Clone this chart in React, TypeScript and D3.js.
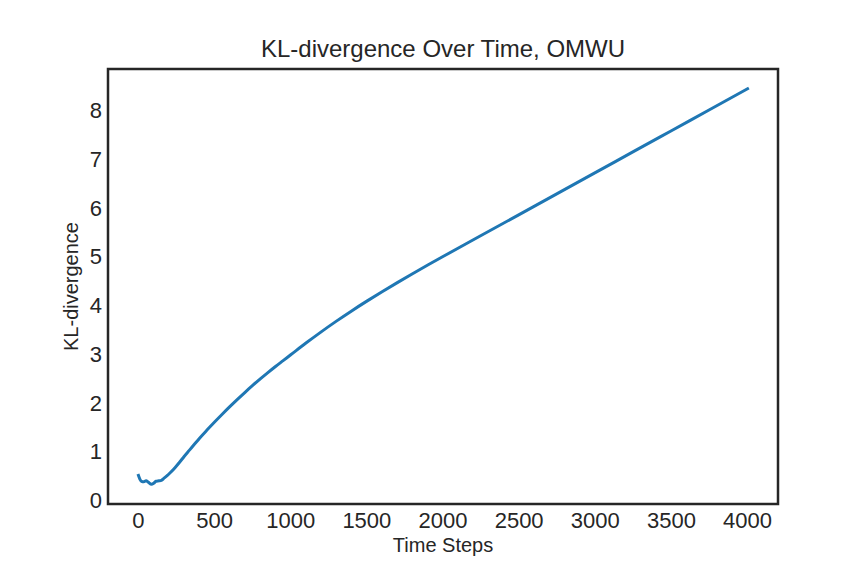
import React from "react";
import * as d3 from "d3";

const timeSteps = [0, 10, 20, 35, 50, 65, 85, 100, 115, 135, 150, 170, 190, 210, 240, 270, 300, 335, 370, 400, 450, 500, 550, 600, 650, 700, 750, 800, 850, 900, 950, 1000, 1100, 1200, 1300, 1400, 1500, 1600, 1700, 1800, 1900, 2000, 2250, 2500, 2750, 3000, 3250, 3500, 3750, 4000];
const klValues = [0.51, 0.43, 0.39, 0.38, 0.40, 0.37, 0.33, 0.35, 0.39, 0.40, 0.41, 0.46, 0.51, 0.57, 0.67, 0.78, 0.90, 1.03, 1.16, 1.27, 1.44, 1.605, 1.765, 1.92, 2.07, 2.215, 2.355, 2.49, 2.62, 2.745, 2.865, 2.985, 3.225, 3.455, 3.675, 3.885, 4.085, 4.278, 4.465, 4.647, 4.825, 5.0, 5.43, 5.86, 6.29, 6.72, 7.15, 7.58, 8.01, 8.44];
const xTicks = [0, 500, 1000, 1500, 2000, 2500, 3000, 3500, 4000];
const yTicks = [0, 1, 2, 3, 4, 5, 6, 7, 8];

const W = 864, H = 576;
const L = 108, R = 778, T = 69, B = 504;
const FONT = "'Liberation Sans', Arial, Helvetica, sans-serif";
const TXT = "#262626";

export default function App() {
  const xMin = d3.min(timeSteps)!, xMax = d3.max(timeSteps)!;
  const yMin = d3.min(klValues)!, yMax = d3.max(klValues)!;
  const xPad = (xMax - xMin) * 0.05, yPad = (yMax - yMin) * 0.05;
  const x = d3.scaleLinear().domain([xMin - xPad, xMax + xPad]).range([L, R]);
  const y = d3.scaleLinear().domain([yMin - yPad, yMax + yPad]).range([B, T]);
  const pts: [number, number][] = timeSteps.map((t, i) => [t, klValues[i]]);
  const line = d3.line<[number, number]>().x(d => x(d[0])).y(d => y(d[1])).curve(d3.curveMonotoneX);

  return (
    <svg width={W} height={H} style={{ position: "absolute", left: 0, top: 0, background: "#fff" }} fontFamily={FONT}>
      <rect x={0} y={0} width={W} height={H} fill="#fff" />
      <path d={line(pts)!} fill="none" stroke="#1f77b4" strokeWidth={3} strokeLinejoin="round" strokeLinecap="square" />
      <rect x={L} y={T} width={R - L} height={B - T} fill="none" stroke={TXT} strokeWidth={2.5} />
      {xTicks.map(t => (
        <text key={"x" + t} x={x(t)} y={528} textAnchor="middle" fontSize={22} fill={TXT}>{t}</text>
      ))}
      {yTicks.map(t => (
        <text key={"y" + t} x={102} y={y(t)} dy="0.36em" textAnchor="end" fontSize={22} fill={TXT}>{t}</text>
      ))}
      <text x={(L + R) / 2} y={57} textAnchor="middle" fontSize={24} fill={TXT}>KL-divergence Over Time, OMWU</text>
      <text x={(L + R) / 2} y={552} textAnchor="middle" fontSize={20} fill={TXT}>Time Steps</text>
      <text transform={`translate(78, ${(T + B) / 2}) rotate(-90)`} textAnchor="middle" fontSize={20} fill={TXT}>KL-divergence</text>
    </svg>
  );
}
